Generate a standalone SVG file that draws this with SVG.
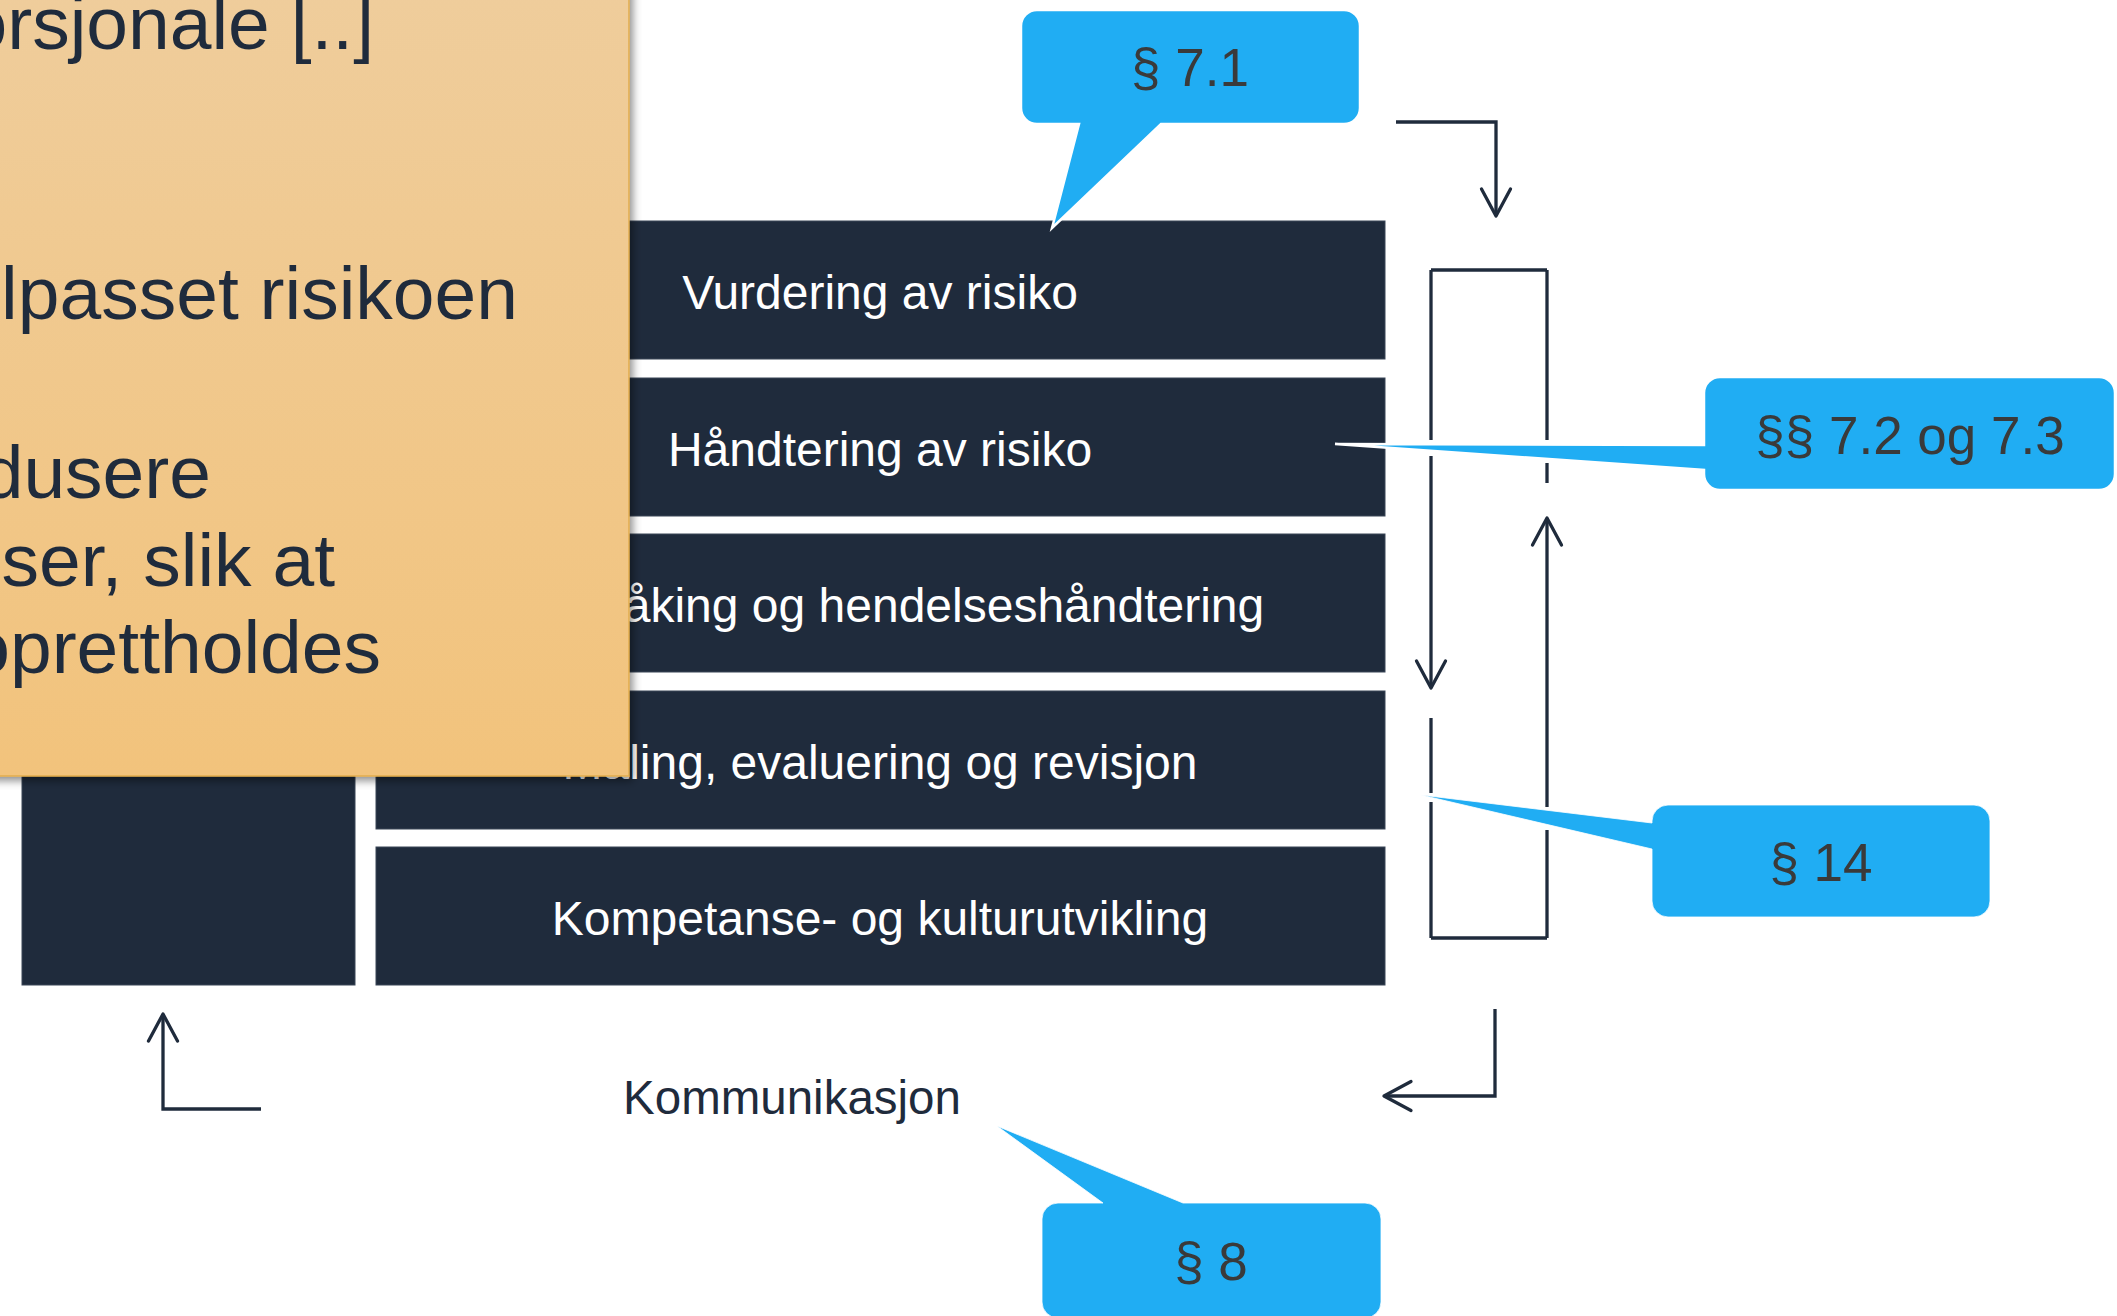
<svg xmlns="http://www.w3.org/2000/svg" width="2117" height="1316" viewBox="0 0 2117 1316">
  <style>
    .bar { fill: #1F2B3C; stroke: #3A4657; stroke-width: 1; }
    .barlabel { font-family: "Liberation Sans", Arial, sans-serif; font-size: 48px; fill: #FFFFFF; text-anchor: middle; }
    .note { font-family: "Liberation Sans", Arial, sans-serif; font-size: 75px; fill: #1F2B3C; text-anchor: end; }
    .callout { fill: #20ADF3; stroke: #FFFFFF; stroke-width: 2.5; stroke-linejoin: miter; }
    .callout.thin { stroke-width: 0.8; }
    .ctext { font-family: "Liberation Sans", Arial, sans-serif; font-size: 53px; fill: #3A3A3A; text-anchor: middle; }
    .conn { fill: none; stroke: #1F2B3C; stroke-width: 3.3; }
    .label { font-family: "Liberation Sans", Arial, sans-serif; font-size: 47.5px; fill: #1F2B3C; text-anchor: middle; }
  </style>
  <defs>
    <marker id="arr" markerUnits="userSpaceOnUse" markerWidth="44" markerHeight="44" viewBox="-34 -22 44 44" refX="0" refY="0" orient="auto">
      <path d="M-27,-14.5 L0,0 L-27,14.5" fill="none" stroke="#1F2B3C" stroke-width="3.3" stroke-linejoin="round" stroke-linecap="round"/>
    </marker>
    <linearGradient id="noteGrad" x1="0" y1="0" x2="0" y2="1">
      <stop offset="0" stop-color="#EFCD9C"/>
      <stop offset="1" stop-color="#F2C37C"/>
    </linearGradient>
    <filter id="shadow" x="-10%" y="-10%" width="130%" height="130%">
      <feDropShadow dx="3" dy="4" stdDeviation="4" flood-color="#000000" flood-opacity="0.45"/>
    </filter>
  </defs>

  <rect x="0" y="0" width="2117" height="1316" fill="#FFFFFF"/>

  <g id="left-block">
    <rect class="bar" x="22" y="221" width="333" height="764"/>
  </g>

  <g id="bar-vurdering">
    <rect class="bar" x="376" y="221" width="1009" height="138"/>
    <text class="barlabel" x="880" y="309">Vurdering av risiko</text>
  </g>
  <g id="bar-handtering">
    <rect class="bar" x="376" y="378" width="1009" height="138"/>
    <text class="barlabel" x="880" y="466">Håndtering av risiko</text>
  </g>
  <g id="bar-overvaking">
    <rect class="bar" x="376" y="534" width="1009" height="138"/>
    <text class="barlabel" x="880" y="622">Overvåking og hendelseshåndtering</text>
  </g>
  <g id="bar-maling">
    <rect class="bar" x="376" y="691" width="1009" height="138"/>
    <text class="barlabel" x="880" y="779">Måling, evaluering og revisjon</text>
  </g>
  <g id="bar-kompetanse">
    <rect class="bar" x="376" y="847" width="1009" height="138"/>
    <text class="barlabel" x="880" y="935">Kompetanse- og kulturutvikling</text>
  </g>

  <g id="note">
    <rect x="-20" y="-20" width="649" height="796" fill="url(#noteGrad)" stroke="#E2AC4C" stroke-width="1.5" filter="url(#shadow)"/>
    <text class="note" x="374" y="49">orsjonale [..]</text>
    <text class="note" x="518" y="319">lpasset risikoen</text>
    <text class="note" x="211" y="498">dusere</text>
    <text class="note" x="335" y="586">ser, slik at</text>
    <text class="note" x="381" y="673">oprettholdes</text>
  </g>

  <g id="connectors">
    <path class="conn" d="M1396,122 H1496 V216" marker-end="url(#arr)"/>
    <path class="conn" d="M1431,270 H1547"/>
    <path class="conn" d="M1431,938 H1547"/>
    <path class="conn" d="M1431,270 V440"/>
    <path class="conn" d="M1431,456 V688" marker-end="url(#arr)"/>
    <path class="conn" d="M1431,718 V793"/>
    <path class="conn" d="M1431,802 V938"/>
    <path class="conn" d="M1547,270 V440"/>
    <path class="conn" d="M1547,463 V483"/>
    <path class="conn" d="M1547,938 V830"/>
    <path class="conn" d="M1547,807 V518" marker-end="url(#arr)"/>
    <path class="conn" d="M1495,1009 V1096 H1384" marker-end="url(#arr)"/>
    <path class="conn" d="M261,1109 H163 V1014" marker-end="url(#arr)"/>
  </g>

  <g id="label-kommunikasjon">
    <text class="label" x="792" y="1114">Kommunikasjon</text>
  </g>

  <g id="callout-7-1">
    <path class="callout" d="M1037,10 H1344 A16,16 0 0 1 1360,26 V108 A16,16 0 0 1 1344,124 H1161 L1052,228 L1079,124 H1037 A16,16 0 0 1 1021,108 V26 A16,16 0 0 1 1037,10 Z"/>
    <text class="ctext" x="1190" y="86">§ 7.1</text>
  </g>
  <g id="callout-7-2">
    <path class="callout" d="M1720,377 H2099 A16,16 0 0 1 2115,393 V474 A16,16 0 0 1 2099,490 H1720 A16,16 0 0 1 1704,474 V470 L1335,444 L1704,445 V393 A16,16 0 0 1 1720,377 Z"/>
    <text class="ctext" x="1910" y="454">§§ 7.2 og 7.3</text>
  </g>
  <g id="callout-14">
    <path class="callout thin" d="M1668,805 H1974 A16,16 0 0 1 1990,821 V901 A16,16 0 0 1 1974,917 H1668 A16,16 0 0 1 1652,901 V849 L1421,795 L1652,823 V821 A16,16 0 0 1 1668,805 Z"/>
    <text class="ctext" x="1821" y="881">§ 14</text>
  </g>
  <g id="callout-8">
    <path class="callout thin" d="M1058,1203 H1103 L997,1126 L1183,1203 H1365 A16,16 0 0 1 1381,1219 V1302 A16,16 0 0 1 1365,1318 H1058 A16,16 0 0 1 1042,1302 V1219 A16,16 0 0 1 1058,1203 Z"/>
    <text class="ctext" x="1211" y="1280">§ 8</text>
  </g>
</svg>
